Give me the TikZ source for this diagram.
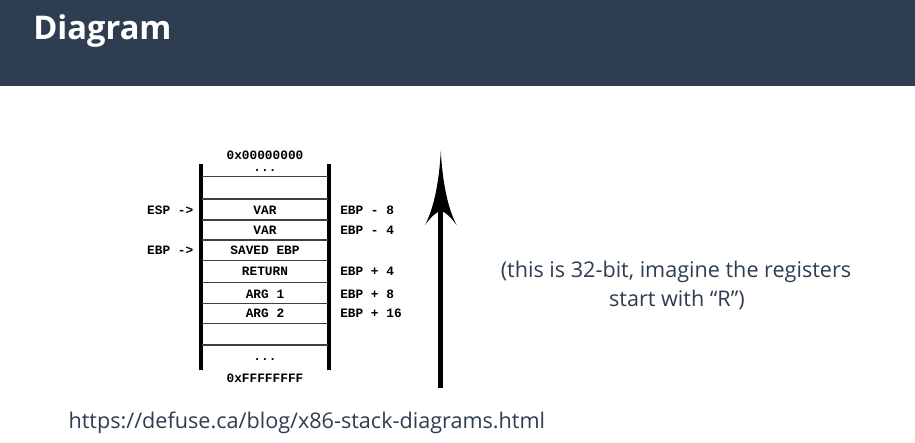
\documentclass[tikz,border=0pt]{standalone}
\usepackage{fontspec}
\setmainfont{Open Sans}
\newfontfamily\monob{Liberation Mono}
\definecolor{slate}{HTML}{2E3E50}
\definecolor{bodytext}{HTML}{2E3E50}
\begin{document}
\begin{tikzpicture}[x=0.75pt,y=-0.75pt,
  mono/.style={inner sep=0pt,font=\monob\fontsize{9.6pt}{10pt}\selectfont\bfseries,text=black},
  sans/.style={inner sep=0pt,font=\fontsize{16.2pt}{20pt}\selectfont,text=bodytext},
  rail/.style={line width=2.8pt,black},
  slot/.style={line width=1.1pt,black!75}]
\useasboundingbox (0,0) rectangle (915,443);
\fill[white] (0,0) rectangle (915,443);
\fill[slate] (0,0) rectangle (915,86);
\node[anchor=base west,inner sep=0pt,text=white,font=\fontsize{24.5pt}{28pt}\selectfont\bfseries] (title) at (33,39.5) {Diagram};

% stack rails
\coordinate (ltop) at (201,164);
\coordinate (lbot) at (201,370);
\coordinate (rtop) at (329,164);
\coordinate (rbot) at (329,370);
\draw[rail] (ltop) -- (lbot);
\draw[rail] (rtop) -- (rbot);
\foreach \yy in {176.7,199,220,240,260.7,282.7,303.3,323.3,345}
  \draw[slot] (202.4,\yy) -- (327.6,\yy);

% stack texts
\node[mono] (addrlo) at (265,155) {0x00000000};
\node[mono,anchor=base] (dotstop) at (265,171.5) {...};
\node[mono] (var1) at (265,210) {VAR};
\node[mono] (var2) at (265,230) {VAR};
\node[mono] (saved) at (265,250.5) {SAVED EBP};
\node[mono] (ret) at (265,271.7) {RETURN};
\node[mono] (arg1) at (265,293.8) {ARG 1};
\node[mono] (arg2) at (265,313.3) {ARG 2};
\node[mono,anchor=base] (dotsbot) at (265,360) {...};
\node[mono] (addrhi) at (265,378) {0xFFFFFFFF};

\node[mono,anchor=east] (esp) at (193.5,210) {ESP ->};
\node[mono,anchor=east] (ebp) at (193.5,250.5) {EBP ->};

\node[mono,anchor=west] (m8) at (340,210) {EBP - 8};
\node[mono,anchor=west] (m4) at (340,230) {EBP - 4};
\node[mono,anchor=west] (p4) at (340,271.7) {EBP + 4};
\node[mono,anchor=west] (p8) at (340,293.8) {EBP + 8};
\node[mono,anchor=west] (p16) at (340,313.3) {EBP + 16};

% big arrow
\coordinate (abot) at (440.8,388);
\coordinate (atop) at (440.8,151);
\coordinate (anotch) at (440.8,211);
\draw[line width=3.8pt,black] (abot) -- (anotch);
\fill[black] (atop) .. controls (439,185) and (433,210) .. (425,225)
  .. controls (431,217) and (436,212) .. (anotch)
  .. controls (445.6,212) and (450.6,217) .. (456.6,225)
  .. controls (448.6,210) and (442.6,185) .. (atop) -- cycle;

% note
\node[sans,anchor=base] (note1) at (676,277.7) {(this is 32-bit, imagine the registers};
\node[sans,anchor=base] (note2) at (677,306.7) {start with “R”)};

% url
\node[sans,anchor=base west] (url) at (68.3,428.3) {https://defuse.ca/blog/x86-stack-diagrams.html};
\end{tikzpicture}
\end{document}
